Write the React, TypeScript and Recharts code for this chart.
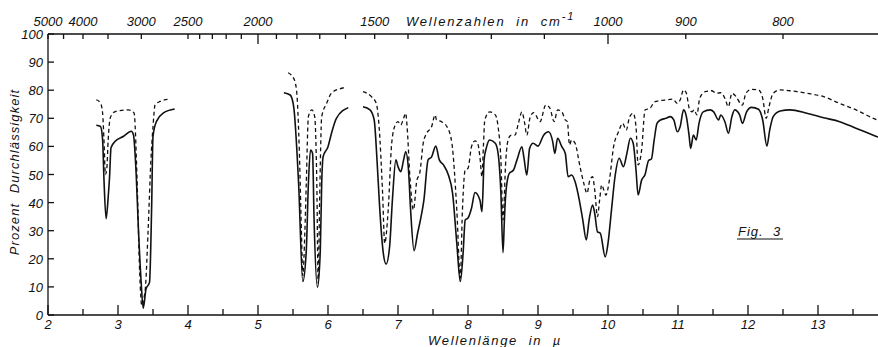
import { LineChart, Line, XAxis, YAxis } from 'recharts';

// IR-Spektrum, Fig. 3 – durchgezogene und gestrichelte Kurve
const solidWl = [
  2.69, 2.75, 2.78, 2.8, 2.83, 2.86, 2.88, 2.9, 2.96, 3.08, 3.19, 3.22, 3.26, 3.29, 3.33, 3.36, 3.4, 3.45, 3.48, 3.5, 3.55, 3.65, 3.81,
  4.5,
  5.37, 5.46, 5.51, 5.58, 5.64, 5.69, 5.72, 5.75, 5.78, 5.8, 5.85, 5.89, 5.91, 5.93, 6.0, 6.05, 6.12, 6.29,
  6.4,
  6.5, 6.6, 6.66, 6.7, 6.74, 6.79, 6.83, 6.88, 6.92, 6.97, 7.0, 7.04, 7.08, 7.11, 7.15, 7.18, 7.23, 7.28, 7.32, 7.37, 7.43,
  7.48, 7.54, 7.59, 7.65, 7.72, 7.78, 7.84, 7.89, 7.93, 7.96, 8.0, 8.05, 8.1, 8.17, 8.2, 8.23, 8.26, 8.31, 8.39, 8.43, 8.47,
  8.5, 8.52, 8.54, 8.59, 8.65, 8.7, 8.77, 8.8, 8.84, 8.88, 8.93, 9.0, 9.08, 9.15, 9.21, 9.24, 9.28, 9.34, 9.39, 9.43, 9.48,
  9.53, 9.59, 9.64, 9.69, 9.73, 9.78, 9.81, 9.85, 9.89, 9.96, 10.0, 10.05, 10.1, 10.16, 10.22, 10.27, 10.32, 10.36, 10.4,
  10.43, 10.48, 10.53, 10.58, 10.62, 10.66, 10.7, 10.75, 10.83, 10.89, 10.94, 10.99, 11.03, 11.08, 11.12, 11.16, 11.18,
  11.22, 11.26, 11.3, 11.36, 11.46, 11.51, 11.58, 11.61, 11.67, 11.72, 11.77, 11.81, 11.88, 11.92, 11.98, 12.05, 12.15,
  12.21, 12.27, 12.31, 12.36, 12.46, 12.6, 12.84, 13.08, 13.31, 13.55, 13.79, 13.86,
];
const solidT = [
  67.5, 67.1, 62.4, 48, 34.3, 42, 49.4, 59.5, 61.8, 63.6, 65.4, 64.2, 50, 31.7, 12, 2.4, 9.2, 11.6, 37.6, 63.6, 68.9, 71.9, 73.3,
  null,
  79.1, 78.3, 74.1, 46.9, 11.9, 23, 46.9, 58.7, 57.5, 35, 9.9, 23, 46.9, 56.3, 59.9, 64.7, 70, 73.8,
  null,
  74.1, 73, 69.4, 55.2, 37.4, 22, 18.1, 24.3, 40.9, 55.2, 52.8, 51, 55.2, 58.1, 51.6, 37.4, 22.9, 29.1, 33.8, 40.9, 55.2,
  56.3, 60.1, 55.2, 53.4, 49.8, 43.3, 25.5, 11.9, 22, 33.8, 34.5, 38, 43.6, 40.9, 36.8, 55.2, 59.3, 62.3, 61.1, 57.5, 43.3,
  22.2, 33.8, 43.3, 50.4, 51.6, 55.2, 59.9, 55.8, 49.8, 59.3, 61.1, 60.1, 64, 65.2, 61.7, 57.5, 62.9, 59.9, 57.5, 49.2, 49.8,
  47.4, 40.9, 33.8, 26.7, 33.8, 39.1, 36.2, 29.6, 29.1, 20.7, 25.5, 37.4, 49.2, 55.8, 52.8, 57.5, 62.9, 61.1, 51.6,
  42.7, 48, 50, 55, 55.5, 62.3, 68.2, 69.4, 70, 70.6, 69.4, 65.2, 67, 73, 70.6, 63.5, 59.3,
  64, 62.3, 68.2, 72.3, 73, 72.3, 69.4, 71.2, 68.8, 64.7, 70.6, 73, 71.2, 68.2, 72.3, 73.9, 73.2,
  69.4, 60.1, 65.8, 70.6, 72.6, 73, 71.8, 70.2, 68.8, 66.4, 64, 63.3,
];

const dashedWl = [
  2.69, 2.75, 2.78, 2.8, 2.82, 2.84, 2.86, 2.89, 2.96, 3.15, 3.23, 3.27, 3.31, 3.34, 3.37, 3.39, 3.43, 3.47, 3.5, 3.53, 3.6, 3.72,
  4.5,
  5.43, 5.51, 5.55, 5.59, 5.62, 5.64, 5.67, 5.69, 5.72, 5.77, 5.81, 5.84, 5.86, 5.88, 5.91, 5.98, 6.05, 6.17, 6.25,
  6.4,
  6.5, 6.62, 6.69, 6.73, 6.78, 6.81, 6.86, 6.91, 6.96, 7.0, 7.04, 7.08, 7.11, 7.13, 7.17, 7.22, 7.27, 7.31, 7.36, 7.41, 7.48,
  7.53, 7.55, 7.62, 7.7, 7.77, 7.84, 7.89, 7.92, 7.96, 8.0, 8.05, 8.1, 8.14, 8.17, 8.2, 8.22, 8.24, 8.31, 8.39, 8.43, 8.47,
  8.5, 8.54, 8.58, 8.62, 8.67, 8.72, 8.77, 8.81, 8.84, 8.89, 8.94, 9.03, 9.11, 9.17, 9.23, 9.28, 9.34, 9.39, 9.42, 9.45,
  9.48, 9.53, 9.6, 9.66, 9.7, 9.74, 9.78, 9.81, 9.85, 9.88, 9.91, 9.94, 9.97, 10.02, 10.08, 10.15, 10.21, 10.26, 10.31,
  10.36, 10.4, 10.43, 10.48, 10.53, 10.6, 10.67, 10.81, 10.93, 10.99, 11.03, 11.08, 11.12, 11.16, 11.2, 11.23, 11.27,
  11.31, 11.39, 11.48, 11.55, 11.61, 11.67, 11.72, 11.77, 11.83, 11.89, 11.92, 11.97, 12.05, 12.15, 12.21, 12.26, 12.3,
  12.36, 12.46, 12.6, 12.84, 13.08, 13.31, 13.55, 13.79, 13.86,
];
const dashedT = [
  76.6, 75.4, 71.9, 62, 50, 52, 62.4, 70.2, 72.4, 73, 71.9, 50, 15, 3.3, 6, 9.2, 30, 55, 67, 74.8, 76, 76.8,
  null,
  86.2, 84.2, 80.1, 58.7, 30, 14, 30, 47, 70.6, 73, 70.6, 47, 11.3, 40, 70.6, 75.3, 79, 80.5, 81,
  null,
  79.5, 77.7, 75.3, 67, 43.3, 25.5, 37.4, 61.1, 67.6, 68.8, 67.6, 70, 71.8, 67, 49.2, 37.4, 48, 50.4, 61.1, 64.7, 67,
  71.2, 69.4, 68.8, 67, 61.1, 37.4, 13.1, 37, 51.6, 52.2, 59.9, 62, 61, 56.3, 49.2, 59.9, 69.4, 72.3, 71.2, 67, 55.2,
  33.8, 55.2, 62.9, 64, 64, 68.2, 72.3, 68.2, 64, 70.6, 72, 68.8, 74.7, 73.6, 68.8, 73, 72.3, 69.4, 68.8, 60.5,
  62.3, 61.1, 52.8, 46.3, 43.3, 48, 49.2, 44.5, 35, 40.9, 46.3, 44.5, 42.7, 48, 59.9, 65.2, 68.2, 65.8, 70.6,
  71.8, 67, 53.4, 58.7, 73, 73.6, 75.9, 76.5, 76.8, 75.3, 76.5, 80.1, 78.9, 73.6, 72.3, 73, 71.2,
  77.1, 79.5, 79.8, 78.9, 79.1, 77.1, 74.1, 78.9, 77.7, 75.3, 74.7, 78.9, 80.3, 80.1, 77.1, 70, 74.1,
  78.9, 80.1, 79.8, 78.9, 77.7, 75.3, 72.9, 70, 69.3,
];

const bottomTicks = [2, 2.5, 3, 3.5, 4, 4.5, 5, 5.5, 6, 6.5, 7, 7.5, 8, 8.5, 9, 9.5, 10, 10.5, 11, 11.5, 12, 12.5, 13, 13.5];
const leftTicks = [0, 10, 20, 30, 40, 50, 60, 70, 80, 90, 100];
const topWavenumbers = [5000, 4500, 4000, 3500, 3000, 2500, 2400, 2300, 2200, 2100, 2000, 1900, 1800, 1700, 1600, 1500, 1400, 1300, 1200, 1100, 1000, 900, 800];
const topLabels = [5000, 4000, 3000, 2500, 2000, 1500, 1000, 900, 800];
const topMajor = [2000, 1000];

const solidData = solidWl.map((wl, i) => ({ wl, t: solidT[i] }));
const dashedData = dashedWl.map((wl, i) => ({ wl, t: dashedT[i] }));
const topTicks = topWavenumbers.map((n) => 10000 / n);

const INK = '#111';
const FONT = '"Liberation Sans", Arial, sans-serif';
const X_MAX = 2 + 830 / 70;

function BottomTick(props: any) {
  const { x, y, payload } = props;
  const v = payload.value;
  const major = Number.isInteger(v);
  return (
    <g>
      <line x1={x} y1={y} x2={x} y2={y - (major ? 10 : 6)} stroke={INK} strokeWidth={1.3} />
      {major && (
        <text x={x} y={y + 14} textAnchor="middle" fontFamily={FONT} fontStyle="italic" fontSize={13} fill={INK}>
          {v}
        </text>
      )}
    </g>
  );
}

function TopTick(props: any) {
  const { x, y, payload } = props;
  const wn = Math.round(10000 / payload.value);
  const len = topMajor.includes(wn) ? 10 : 5;
  return (
    <g>
      <line x1={x} y1={y} x2={x} y2={y + len} stroke={INK} strokeWidth={1.3} />
      {topLabels.includes(wn) && (
        <text x={x} y={y - 8} textAnchor="middle" fontFamily={FONT} fontStyle="italic" fontSize={13} fill={INK}>
          {wn}
        </text>
      )}
    </g>
  );
}

function LeftTick(props: any) {
  const { x, y, payload } = props;
  return (
    <g>
      <line x1={x} y1={y} x2={x + 6} y2={y} stroke={INK} strokeWidth={1.3} />
      <text x={x - 5} y={y + 5} textAnchor="end" fontFamily={FONT} fontStyle="italic" fontSize={13} fill={INK}>
        {payload.value}
      </text>
    </g>
  );
}

const textStyle = { fontFamily: FONT, fontStyle: 'italic', fontSize: 13, fill: INK } as const;

export default function App() {
  return (
    <div style={{ position: 'absolute', left: 0, top: 0, width: 878, height: 347, background: '#fff' }}>
      <LineChart width={878} height={347} margin={{ top: 0, right: 0, bottom: 0, left: 0 }}>
        <XAxis
          xAxisId="top"
          orientation="top"
          type="number"
          dataKey="wl"
          domain={[2, X_MAX]}
          allowDataOverflow
          ticks={topTicks}
          interval={0}
          height={34}
          tickSize={0}
          tickMargin={0}
          tickLine={false}
          axisLine={{ stroke: INK, strokeWidth: 1.3 }}
          tick={<TopTick />}
        />
        <XAxis
          type="number"
          dataKey="wl"
          domain={[2, X_MAX]}
          allowDataOverflow
          ticks={bottomTicks}
          interval={0}
          height={32}
          tickSize={0}
          tickMargin={0}
          tickLine={false}
          axisLine={{ stroke: INK, strokeWidth: 1.3 }}
          tick={<BottomTick />}
        />
        <YAxis
          type="number"
          domain={[0, 100]}
          ticks={leftTicks}
          interval={0}
          width={48}
          tickSize={0}
          tickMargin={0}
          tickLine={false}
          axisLine={{ stroke: INK, strokeWidth: 1.3 }}
          tick={<LeftTick />}
        />
        <Line
          data={dashedData}
          dataKey="t"
          type="monotone"
          stroke={INK}
          strokeWidth={1.3}
          strokeDasharray="4 3"
          dot={false}
          connectNulls={false}
          isAnimationActive={false}
        />
        <Line
          data={solidData}
          dataKey="t"
          type="monotone"
          stroke={INK}
          strokeWidth={1.6}
          dot={false}
          connectNulls={false}
          isAnimationActive={false}
        />
      </LineChart>
      <svg width={878} height={347} style={{ position: 'absolute', left: 0, top: 0, pointerEvents: 'none' }}>
        <text x={406} y={26} {...textStyle} letterSpacing={1.8}>
          Wellenzahlen{'\u00a0\u00a0'}in{'\u00a0\u00a0'}cm
          <tspan dy={-6} fontSize={11}>-1</tspan>
        </text>
        <text x={428} y={345} {...textStyle} letterSpacing={1.7}>
          Wellenlänge{'\u00a0\u00a0'}in{'\u00a0\u00a0'}µ
        </text>
        <text x={0} y={0} {...textStyle} letterSpacing={1.1} textAnchor="middle" transform="translate(19,172) rotate(-90)">
          Prozent{'\u00a0\u00a0'}Durchlässigkeit
        </text>
        <text x={738} y={236} {...textStyle} letterSpacing={1}>
          Fig.{'\u00a0\u00a0'}3
        </text>
        <line x1={737} y1={239} x2={783} y2={239} stroke={INK} strokeWidth={1.2} />
      </svg>
    </div>
  );
}
